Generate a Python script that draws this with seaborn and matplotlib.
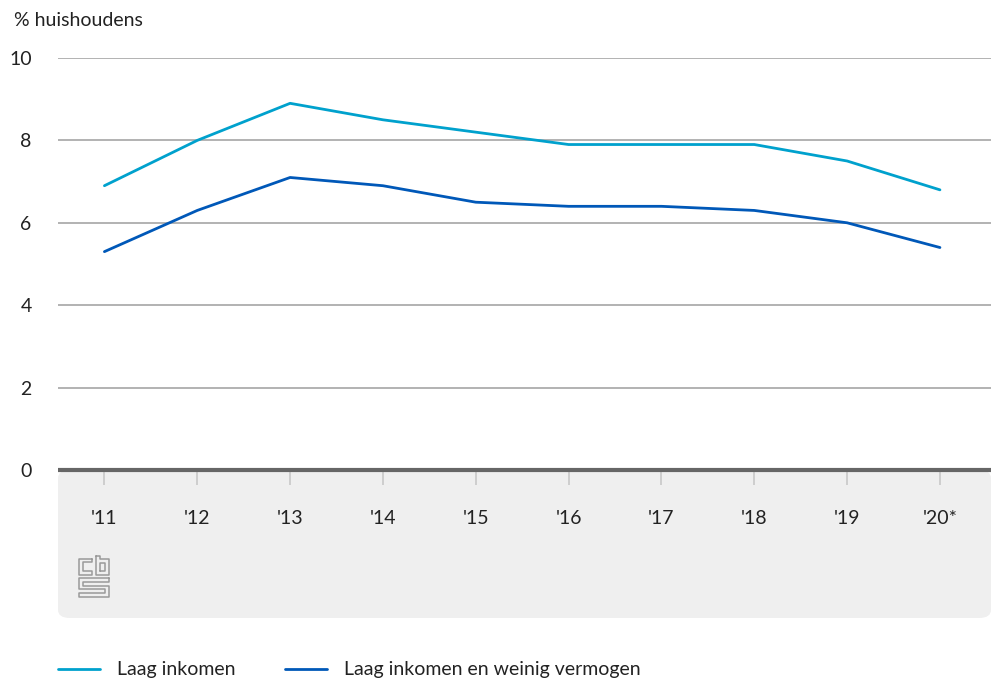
import pandas as pd
import seaborn as sns
import matplotlib.pyplot as plt
from matplotlib.patches import FancyBboxPatch

jaren = ["'11", "'12", "'13", "'14", "'15", "'16", "'17", "'18", "'19", "'20*"]
laag_inkomen = [6.9, 8.0, 8.9, 8.5, 8.2, 7.9, 7.9, 7.9, 7.5, 6.8]
laag_inkomen_weinig_vermogen = [5.3, 6.3, 7.1, 6.9, 6.5, 6.4, 6.4, 6.3, 6.0, 5.4]
reeksen = ["Laag inkomen", "Laag inkomen en weinig vermogen"]
kleuren = ["#00a1cd", "#0058b8"]
y_ticks = [0, 2, 4, 6, 8, 10]

sns.set_theme(style="white")
plt.rcParams["font.family"] = ["Lato", "DejaVu Sans"]
FS = 14

df = pd.DataFrame({
    "pos": list(range(len(jaren))) * 2,
    "waarde": laag_inkomen + laag_inkomen_weinig_vermogen,
    "reeks": [reeksen[0]] * len(jaren) + [reeksen[1]] * len(jaren),
})

W, H = 991, 682
fig = plt.figure(figsize=(W / 100, H / 100), dpi=100)

# grijs paneel onder de x-as
paneel = FancyBboxPatch((58 / W, 1 - 618 / H), (991 - 58) / W, (618 - 470) / H,
                        boxstyle="round,pad=0,rounding_size=0.012",
                        transform=fig.transFigure, facecolor="#efefef",
                        edgecolor="none", zorder=-5)
fig.patches.append(paneel)

ax = fig.add_axes([58 / W, 1 - 470 / H, (991 - 58) / W, (470 - 58) / H])
ax.patch.set_alpha(0)

sns.lineplot(data=df, x="pos", y="waarde", hue="reeks", palette=kleuren,
             linewidth=2, ax=ax, legend=False, zorder=3)

ax.set_xlim(-0.5, 9.55)
ax.set_ylim(0, 10)
ax.set_yticks(y_ticks)
ax.set_yticklabels([str(t) for t in y_ticks], fontsize=FS, color="#222222")
for t in y_ticks[1:]:
    ax.axhline(t, color="#a6a6a6", linewidth=1.2, zorder=1)
ax.axhline(0, color="#666666", linewidth=3, zorder=2, clip_on=False,
           solid_capstyle="butt")
ax.set_xticks(range(len(jaren)))
ax.set_xticklabels(jaren, fontsize=FS, color="#222222")
ax.tick_params(axis="x", length=11, width=1.2, color="#c8c8c8", pad=18,
               direction="out", bottom=True)
ax.tick_params(axis="y", length=0, pad=19)
for lab in ax.get_yticklabels():
    lab.set_horizontalalignment("right")
for s in ax.spines.values():
    s.set_visible(False)
ax.set_xlabel("")
ax.set_ylabel("")

fig.text(14 / W, 1 - 20 / H, "% huishoudens", fontsize=FS, color="#222222",
         va="center", ha="left")

# cbs-logo (vereenvoudigd)
logo = fig.add_axes([78 / W, 1 - 598 / H, 32 / W, 43 / H])
logo.set_xlim(-0.3, 8.3)
logo.set_ylim(-0.3, 11.3)
logo.axis("off")
lc = "#9a9a9a"
vormen = [
    [(3.5, 10.3), (0, 10.3), (0, 6), (3.5, 6), (3.5, 7), (1, 7), (1, 9.3), (3.5, 9.3), (3.5, 10.3)],
    [(4.5, 11), (4.5, 6), (8, 6), (8, 10.3), (5.5, 10.3), (5.5, 11), (4.5, 11)],
    [(5.6, 7.1), (6.9, 7.1), (6.9, 9.2), (5.6, 9.2), (5.6, 7.1)],
    [(8, 5), (0, 5), (0, 2), (7, 2), (7, 1), (0, 1), (0, 0), (8, 0), (8, 3), (1, 3),
     (1, 4), (8, 4), (8, 5)],
]
for v in vormen:
    xs, ys = zip(*v)
    logo.plot(xs, ys, color=lc, linewidth=1.1)

# legenda
for i, (naam, kleur) in enumerate(zip(reeksen, kleuren)):
    x0 = [58, 285][i]
    fig.add_artist(plt.Line2D([x0 / W, (x0 + 42) / W], [1 - 669 / H] * 2,
                              color=kleur, linewidth=2, transform=fig.transFigure))
    fig.text((x0 + 59) / W, 1 - 669 / H, naam, fontsize=FS, color="#222222",
             va="center", ha="left")

fig.savefig("out.png", dpi=100)
